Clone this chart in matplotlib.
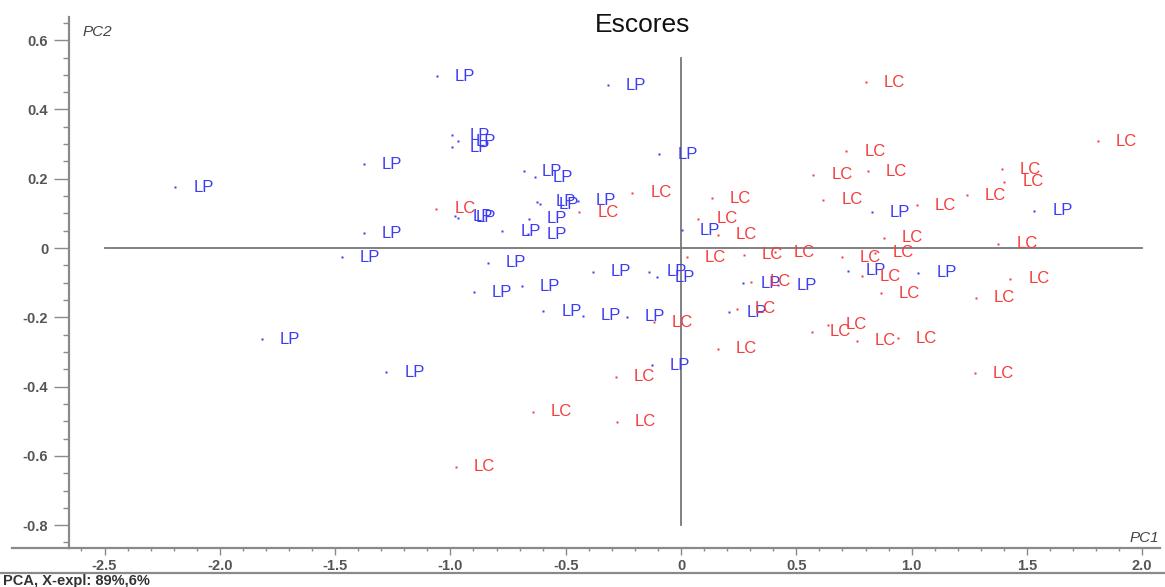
import matplotlib
matplotlib.use('Agg')
import matplotlib.pyplot as plt
from matplotlib.lines import Line2D
from matplotlib.ticker import MultipleLocator, FuncFormatter

plt.rcParams['font.family'] = ['Liberation Sans', 'DejaVu Sans']

# Scores (PC1, PC2)
lp_pc1 = [-2.194, -1.375, -1.375, -1.470, -1.817, -1.279, -1.058, -0.317, -0.993, -0.967,
          -0.993, -0.681, -0.633, -0.624, -0.611, -0.447, -0.980, -0.967, -0.659, -0.776,
          -0.663, -0.095, 0.004, -0.837, -0.382, -0.139, -0.104, -0.898, -0.690, -0.598,
          -0.425, -0.234, -0.126, 0.269, 0.421, 0.208, 0.724, 1.028, 0.828, 1.531]
lp_pc2 = [0.176, 0.242, 0.043, -0.026, -0.263, -0.358, 0.496, 0.470, 0.326, 0.309,
          0.291, 0.222, 0.205, 0.133, 0.127, 0.137, 0.092, 0.087, 0.084, 0.049,
          0.040, 0.271, 0.052, -0.043, -0.069, -0.069, -0.084, -0.127, -0.110, -0.182,
          -0.196, -0.199, -0.338, -0.101, -0.107, -0.185, -0.066, -0.072, 0.104, 0.107]

lc_pc1 = [-1.062, -0.442, -0.212, 0.134, 0.074, 0.160, 0.026, 0.273, 0.408, 0.698,
          0.841, 0.785, 1.427, 0.867, 1.279, 0.568, 0.637, 0.763, 0.941, 1.275,
          0.304, 0.243, 0.160, -0.117, -0.282, -0.642, -0.278, -0.976, 0.802, 1.808,
          0.716, 0.573, 0.811, 1.392, 1.401, 0.616, 1.240, 1.023, 0.880, 1.375]
lc_pc2 = [0.113, 0.104, 0.159, 0.144, 0.084, 0.038, -0.026, -0.020, -0.012, -0.026,
          -0.014, -0.081, -0.089, -0.130, -0.144, -0.242, -0.222, -0.268, -0.260, -0.361,
          -0.098, -0.176, -0.291, -0.214, -0.372, -0.473, -0.502, -0.632, 0.479, 0.309,
          0.280, 0.211, 0.222, 0.228, 0.191, 0.139, 0.153, 0.124, 0.029, 0.012]

groups = [('LP', lp_pc1, lp_pc2, '#3c3cf5'), ('LC', lc_pc1, lc_pc2, '#f53c3c')]

W, H = 1165, 587
fig = plt.figure(figsize=(W / 100, H / 100), dpi=100)
ax = fig.add_axes([69 / W, 1 - 548 / H, (1160 - 69) / W, (548 - 17) / H])
ax.set_xlim(-2.654, 2.077)
ax.set_ylim(-0.866, 0.667)

# origin lines
ax.plot([-2.5, 2.0], [0, 0], color='#777777', lw=1.3, zorder=1)
ax.plot([0, 0], [-0.8, 0.55], color='#777777', lw=1.3, zorder=1)

for name, xs, ys, col in groups:
    ax.plot(xs, ys, ls='none', marker='s', ms=2.0, mec='none', mfc=col, zorder=3)
    for x, y in zip(xs, ys):
        ax.annotate(name, (x, y), xytext=(13, 0), textcoords='offset points',
                    ha='left', va='center', color=col, fontsize=12, zorder=4)

for s in ['top', 'right']:
    ax.spines[s].set_visible(False)
for s in ['left', 'bottom']:
    ax.spines[s].set_color('#8a8a8a')
    ax.spines[s].set_linewidth(1.6)

ax.xaxis.set_major_locator(MultipleLocator(0.5))
ax.xaxis.set_minor_locator(MultipleLocator(0.1))
ax.yaxis.set_major_locator(MultipleLocator(0.2))
ax.yaxis.set_minor_locator(MultipleLocator(0.05))

def fmt(v, pos):
    if abs(v) < 1e-9:
        return '0'
    return '%.1f' % v

ax.xaxis.set_major_formatter(FuncFormatter(fmt))
ax.yaxis.set_major_formatter(FuncFormatter(fmt))
ax.tick_params(axis='x', which='major', length=5, width=1, color='#8a8a8a',
               labelsize=10.5, labelcolor='#555555', pad=3)
ax.tick_params(axis='x', which='minor', length=2.5, width=1, color='#8a8a8a')
ax.tick_params(axis='y', which='major', length=11, width=1, color='#8a8a8a',
               labelsize=10.5, labelcolor='#555555', pad=4)
ax.tick_params(axis='y', which='minor', length=4, width=1, color='#8a8a8a')
for lab in ax.get_xticklabels() + ax.get_yticklabels():
    lab.set_fontweight('bold')

ax.text(0.012, 0.985, 'PC2', transform=ax.transAxes, style='italic',
        fontsize=11, color='#444444', ha='left', va='top')
ax.text(0.999, 0.005, 'PC1', transform=ax.transAxes, style='italic',
        fontsize=11, color='#444444', ha='right', va='bottom')

fig.text(643 / W, 1 - 25 / H, 'Escores', ha='center', va='center',
         fontsize=19, color='#111111')

# bottom spine extension and footer
fig.add_artist(Line2D([12 / W, 69 / W], [1 - 548 / H, 1 - 548 / H],
                      transform=fig.transFigure, color='#8a8a8a', lw=1.6))
fig.add_artist(Line2D([0, 1], [1 - 573 / H, 1 - 573 / H],
                      transform=fig.transFigure, color='#8a8a8a', lw=1.6))
fig.text(3 / W, 1 - 581 / H, 'PCA, X-expl: 89%,6%', ha='left', va='center',
         fontsize=10.5, fontweight='bold', color='#333333')

fig.savefig('out.png', dpi=100)
